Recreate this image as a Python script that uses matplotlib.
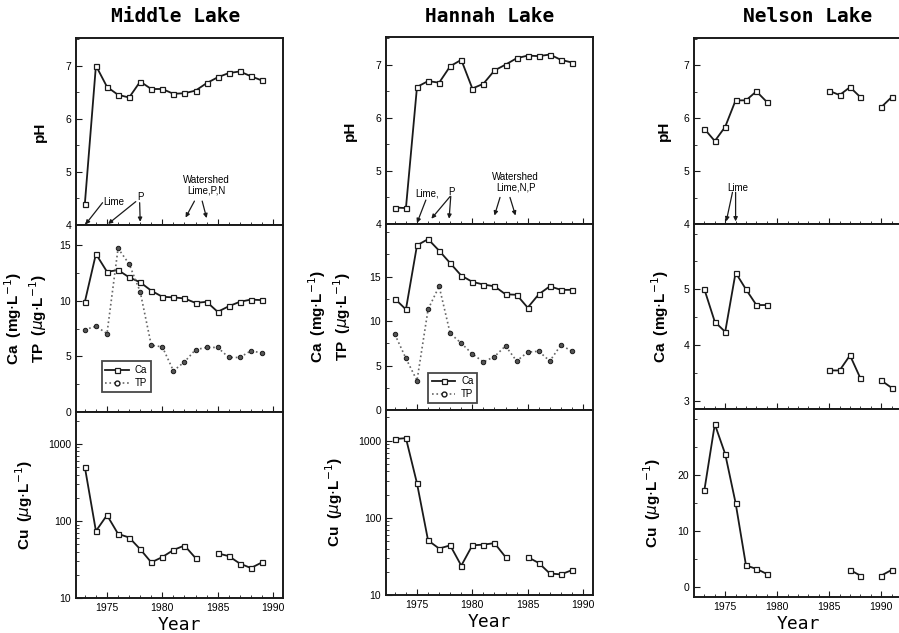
import numpy as np
import matplotlib
matplotlib.use("Agg")
import matplotlib.pyplot as plt
from matplotlib.ticker import FixedLocator, LogLocator, NullFormatter, FuncFormatter

plt.rcParams['font.family'] = ['Liberation Sans', 'DejaVu Sans']

years = list(range(1973, 1990))
years_nelson = list(range(1973, 1992))
N = None

# Middle Lake
middle_ph = [4.4, 7.0, 6.6, 6.45, 6.4, 6.7, 6.56, 6.56, 6.47, 6.48, 6.53, 6.67, 6.78, 6.86, 6.89, 6.8, 6.72]
middle_ca = [9.9, 14.2, 12.6, 12.75, 12.1, 11.65, 10.9, 10.35, 10.3, 10.2, 9.8, 9.9, 9.0, 9.5, 9.9, 10.1, 10.05]
middle_tp = [7.4, 7.7, 7.05, 14.7, 13.3, 10.8, 6.0, 5.85, 3.7, 4.5, 5.6, 5.8, 5.8, 4.9, 4.9, 5.5, 5.3]
middle_cu = [500, 74, 119, 68, 61, 43, 29, 34, 42, 48, 33, N, 38, 35, 28, 24.5, 29]

# Hannah Lake
hannah_ph = [4.31, 4.3, 6.58, 6.69, 6.66, 6.97, 7.09, 6.55, 6.64, 6.89, 7.0, 7.12, 7.17, 7.16, 7.19, 7.09, 7.04]
hannah_ca = [12.5, 11.3, 18.5, 19.2, 17.9, 16.5, 15.1, 14.4, 14.1, 13.9, 13.0, 12.95, 11.5, 13.0, 13.9, 13.5, 13.5]
hannah_tp = [8.5, 5.8, 3.3, 11.3, 13.9, 8.6, 7.5, 6.3, 5.4, 6.0, 7.2, 5.5, 6.5, 6.6, 5.5, 7.3, 6.6]
hannah_cu = [1050, 1080, 280, 51, 40, 44, 24, 44, 45, 47, 31, N, 31, 26, 19, 18.5, 21]

# Nelson Lake (1973-1991)
nelson_ph = [5.8, 5.57, 5.84, 6.34, 6.34, 6.51, 6.31, N, N, N, N, N, 6.52, 6.44, 6.59, 6.4, N, 6.21, 6.4]
nelson_ca = [5.0, 4.42, 4.24, 5.3, 5.0, 4.72, 4.72, N, N, N, N, N, 3.55, 3.55, 3.82, 3.41, N, 3.37, 3.24]
nelson_cu = [17.3, 29.0, 23.7, 15.0, 3.9, 3.3, 2.4, N, N, N, N, N, N, N, 3.1, 2.1, N, 2.1, 3.1]


def arr(v):
    return np.array([np.nan if x is None else x for x in v], dtype=float)


W, H = 899, 633
fig = plt.figure(figsize=(W / 100, H / 100), dpi=100)


def add_ax(left, top, bottom, width):
    return fig.add_axes([left / W, (H - bottom) / H, width / W, (bottom - top) / H])


LW = 1.3
C = '#1a1a1a'
mk = dict(marker='s', markersize=3.6, markerfacecolor='white', markeredgecolor=C, markeredgewidth=0.9)
mk_tp = dict(marker='o', markersize=3.2, markerfacecolor='#555555', markeredgecolor=C, markeredgewidth=0.7)


def style(ax, xlim, bottom_panel):
    ax.set_xlim(*xlim)
    ax.xaxis.set_major_locator(FixedLocator([1975, 1980, 1985, 1990]))
    ax.xaxis.set_minor_locator(FixedLocator(list(range(1973, 1992))))
    ax.tick_params(which='both', direction='in', labelsize=7.5, color=C)
    ax.tick_params(which='major', length=4)
    ax.tick_params(which='minor', length=2.5)
    for s in ax.spines.values():
        s.set_linewidth(1.4)
        s.set_color(C)
    if not bottom_panel:
        ax.set_xticklabels([])
    else:
        ax.set_xlabel('Year', fontsize=13, labelpad=2, family='DejaVu Sans Mono')


def arrow(ax, start, end):
    ax.annotate('', xy=end, xytext=start,
                arrowprops=dict(arrowstyle='-|>', lw=0.9, color=C, mutation_scale=6, shrinkA=0, shrinkB=0))


def ph_axis(ax):
    ax.set_ylim(4, 7.52)
    ax.yaxis.set_major_locator(FixedLocator([4, 5, 6, 7]))
    ax.yaxis.set_minor_locator(FixedLocator([4.5, 5.5, 6.5, 7.5]))
    ax.set_ylabel('pH', fontsize=11, fontweight='bold')


def log_axis(ax, top):
    ax.set_yscale('log')
    ax.set_ylim(10, top)
    ax.yaxis.set_major_locator(FixedLocator([10, 100, 1000]))
    ax.yaxis.set_minor_locator(LogLocator(base=10, subs=np.arange(2, 10)))
    ax.yaxis.set_minor_formatter(NullFormatter())
    ax.yaxis.set_major_formatter(FuncFormatter(lambda v, p: '%d' % v))
    ax.set_ylabel('Cu  ($\\mu$g$\\cdot$L$^{-1}$)', fontsize=11, fontweight='bold')


def legend(ax, anchor):
    ax.plot([], [], color=C, lw=LW, label='Ca', **mk)
    ax.plot([], [], color='#666666', lw=1.2, ls=':', label='TP', marker='o', markersize=3.5,
            markerfacecolor='white', markeredgecolor=C)
    lg = ax.legend(loc='lower left', bbox_to_anchor=anchor, fontsize=7, frameon=True, fancybox=False,
                   handlelength=2.4, borderpad=0.4, labelspacing=0.3, handletextpad=0.6)
    lg.get_frame().set_edgecolor(C)
    lg.get_frame().set_linewidth(1.3)


# ---------------- Middle Lake ----------------
xl_m = (1972.2, 1990.9)
a1 = add_ax(76, 38, 225, 207)
a2 = add_ax(76, 225, 412, 207)
a3 = add_ax(76, 412, 598, 207)

a1.plot(years, middle_ph, color=C, lw=LW, **mk)
ph_axis(a1)
style(a1, xl_m, False)
a1.text(1975.6, 4.44, 'Lime', fontsize=7, ha='center', va='center')
a1.text(1978.0, 4.52, 'P', fontsize=7, ha='center', va='center')
arrow(a1, (1974.6, 4.42), (1973.05, 4.01))
arrow(a1, (1977.6, 4.44), (1975.1, 4.02))
arrow(a1, (1977.95, 4.42), (1978.0, 4.06))
a1.text(1984.0, 4.75, 'Watershed\nLime,P,N', fontsize=7, ha='center', va='center', linespacing=1.1)
arrow(a1, (1982.9, 4.45), (1982.1, 4.14))
arrow(a1, (1983.6, 4.45), (1984.0, 4.13))
a1.yaxis.set_label_coords(-0.14, 0.5)

a2.plot(years, middle_ca, color=C, lw=LW, **mk)
a2.plot(years, middle_tp, color='#666666', lw=1.2, ls=':', **mk_tp)
a2.set_ylim(0, 16.8)
a2.yaxis.set_major_locator(FixedLocator([0, 5, 10, 15]))
a2.yaxis.set_minor_locator(FixedLocator([2.5, 7.5, 12.5]))
a2.set_ylabel('Ca  (mg$\\cdot$L$^{-1}$)\nTP  ($\\mu$g$\\cdot$L$^{-1}$)', fontsize=11, fontweight='bold',
              linespacing=1.2)
a2.yaxis.set_label_coords(-0.13, 0.5)
style(a2, xl_m, False)
legend(a2, (0.1, 0.08))

a3.plot(years, arr(middle_cu), color=C, lw=LW, **mk)
log_axis(a3, 2600)
a3.yaxis.set_label_coords(-0.2, 0.5)
style(a3, xl_m, True)

# ---------------- Hannah Lake ----------------
xl_h = (1972.2, 1990.9)
b1 = add_ax(386, 37, 224, 207)
b2 = add_ax(386, 224, 410, 207)
b3 = add_ax(386, 410, 595, 207)

b1.plot(years, hannah_ph, color=C, lw=LW, **mk)
ph_axis(b1)
style(b1, xl_h, False)
b1.text(1975.9, 4.57, 'Lime,', fontsize=7, ha='center', va='center')
b1.text(1978.1, 4.6, 'P', fontsize=7, ha='center', va='center')
arrow(b1, (1975.8, 4.45), (1975.0, 4.02))
arrow(b1, (1978.0, 4.52), (1976.3, 4.1))
arrow(b1, (1978.05, 4.52), (1977.9, 4.1))
b1.text(1983.9, 4.78, 'Watershed\nLime,N,P', fontsize=7, ha='center', va='center', linespacing=1.1)
arrow(b1, (1982.5, 4.5), (1982.0, 4.16))
arrow(b1, (1983.4, 4.5), (1983.9, 4.16))
b1.yaxis.set_label_coords(-0.14, 0.5)

b2.plot(years, hannah_ca, color=C, lw=LW, **mk)
b2.plot(years, hannah_tp, color='#666666', lw=1.2, ls=':', **mk_tp)
b2.set_ylim(0, 20.9)
b2.yaxis.set_major_locator(FixedLocator([0, 5, 10, 15]))
b2.yaxis.set_minor_locator(FixedLocator([2.5, 7.5, 12.5, 17.5, 20]))
b2.set_ylabel('Ca  (mg$\\cdot$L$^{-1}$)\nTP  ($\\mu$g$\\cdot$L$^{-1}$)', fontsize=11, fontweight='bold',
              linespacing=1.2)
b2.yaxis.set_label_coords(-0.16, 0.5)
style(b2, xl_h, False)
legend(b2, (0.18, 0.01))

b3.plot(years, arr(hannah_cu), color=C, lw=LW, **mk)
log_axis(b3, 2500)
b3.yaxis.set_label_coords(-0.2, 0.5)
style(b3, xl_h, True)

# ---------------- Nelson Lake ----------------
xl_n = (1972.0, 1992.0)
c1 = add_ax(694, 38, 224, 208)
c2 = add_ax(694, 224, 409, 208)
c3 = add_ax(694, 409, 597, 208)

c1.plot(years_nelson, arr(nelson_ph), color=C, lw=LW, **mk)
ph_axis(c1)
style(c1, xl_n, False)
c1.text(1976.2, 4.69, 'Lime', fontsize=7, ha='center', va='center')
arrow(c1, (1975.7, 4.6), (1975.1, 4.05))
arrow(c1, (1976.0, 4.6), (1976.0, 4.05))
c1.yaxis.set_label_coords(-0.11, 0.5)

c2.plot(years_nelson, arr(nelson_ca), color=C, lw=LW, **mk)
c2.set_ylim(2.86, 6.17)
c2.yaxis.set_major_locator(FixedLocator([3, 4, 5]))
c2.yaxis.set_minor_locator(FixedLocator([3.5, 4.5, 5.5, 6.0]))
c2.set_ylabel('Ca  (mg$\\cdot$L$^{-1}$)', fontsize=11, fontweight='bold')
c2.yaxis.set_label_coords(-0.11, 0.5)
style(c2, xl_n, False)

c3.plot(years_nelson, arr(nelson_cu), color=C, lw=LW, **mk)
c3.set_ylim(-1.7, 31.7)
c3.yaxis.set_major_locator(FixedLocator([0, 10, 20]))
c3.yaxis.set_minor_locator(FixedLocator([5, 15, 25, 30]))
c3.set_ylabel('Cu  ($\\mu$g$\\cdot$L$^{-1}$)', fontsize=11, fontweight='bold')
c3.yaxis.set_label_coords(-0.15, 0.5)
style(c3, xl_n, True)

# titles
tkw = dict(fontsize=14, fontweight='bold', ha='center', va='center', family='DejaVu Sans Mono')
fig.text(176 / W, 1 - 17 / H, 'Middle Lake', **tkw)
fig.text(490 / W, 1 - 17 / H, 'Hannah Lake', **tkw)
fig.text(808 / W, 1 - 17 / H, 'Nelson Lake', **tkw)

fig.savefig('out.png', dpi=100)
